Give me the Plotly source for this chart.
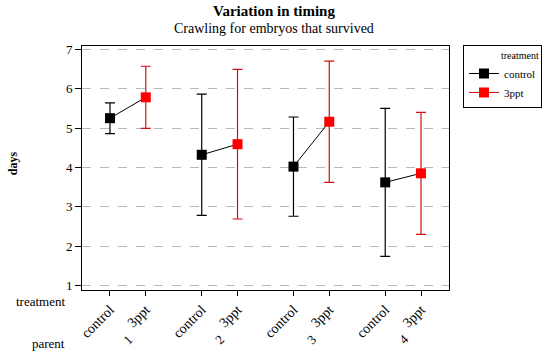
import plotly.graph_objects as go

# values
parents = [1, 2, 3, 4]
treatments = ["control", "3ppt"]
control_mean = [5.25, 4.32, 4.02, 3.62]
control_err = [0.39, 1.54, 1.26, 1.88]
ppt_mean = [5.78, 4.59, 5.16, 3.85]
ppt_err = [0.79, 1.90, 1.54, 1.55]
y_ticks = [1, 2, 3, 4, 5, 6, 7]

off = 0.195
xc = [p - off for p in parents]
xt = [p + off for p in parents]

SERIF = "Liberation Serif, Times New Roman, serif"


def gapped(vals):
    # put None between points so a lines+markers trace draws no segments
    out = []
    for i, v in enumerate(vals):
        if i:
            out.append(None)
        out.append(v)
    return out


def px_x(px):
    # pixel column -> paper x (plot area spans 82..450)
    return (px - 82) / 368


def px_y(px):
    # pixel row -> paper y (plot area spans 46..290)
    return (290 - px) / 244


fig = go.Figure()

# black connecting line in each parent group
lx, ly = [], []
for i in range(len(parents)):
    lx += [xc[i], xt[i], None]
    ly += [control_mean[i], ppt_mean[i], None]
fig.add_trace(go.Scatter(x=lx, y=ly, mode="lines", line=dict(color="black", width=1),
                         showlegend=False, hoverinfo="skip"))

fig.add_trace(go.Scatter(
    name="control", x=gapped(xc), y=gapped(control_mean), mode="lines+markers",
    line=dict(color="black", width=1),
    marker=dict(symbol="square", size=10, color="black"),
    error_y=dict(type="data", array=gapped(control_err), color="black", thickness=1.2, width=5)))

fig.add_trace(go.Scatter(
    name="3ppt", x=gapped(xt), y=gapped(ppt_mean), mode="lines+markers",
    line=dict(color="#e00000", width=1),
    marker=dict(symbol="square", size=10, color="#ff0000"),
    error_y=dict(type="data", array=gapped(ppt_err), color="#d01010", thickness=1.2, width=5)))

tick_x = []
tick_text = []
for i in range(len(parents)):
    tick_x += [xc[i], xt[i]]
    tick_text += treatments

fig.update_xaxes(range=[0.5, 4.5], tickvals=tick_x, ticktext=tick_text, tickangle=-45,
                 ticks="outside", ticklen=5, tickcolor="black",
                 showline=True, linecolor="black", linewidth=1, mirror=True,
                 showgrid=False, zeroline=False,
                 tickfont=dict(family=SERIF, size=14, color="black"))
fig.update_yaxes(range=[0.886, 7.084], tickvals=y_ticks, ticks="outside", ticklen=6,
                 tickcolor="black", showline=True, linecolor="black", linewidth=1, mirror=True,
                 showgrid=True, gridcolor="#b8b8b8", griddash="dash", gridwidth=1,
                 zeroline=False,
                 tickfont=dict(family=SERIF, size=13, color="black"))

# titles
fig.add_annotation(x=px_x(275), y=px_y(11), xref="paper", yref="paper",
                   text="<b>Variation in timing</b>", showarrow=False, yanchor="middle",
                   font=dict(family=SERIF, size=15, color="black"))
fig.add_annotation(x=px_x(275), y=px_y(28.5), xref="paper", yref="paper",
                   text="Crawling for embryos that survived", showarrow=False, yanchor="middle",
                   font=dict(family=SERIF, size=14, color="black"))
fig.add_annotation(x=px_x(13), y=px_y(163), xref="paper", yref="paper",
                   text="<b>days</b>", showarrow=False, textangle=-90,
                   xanchor="center", yanchor="middle",
                   font=dict(family=SERIF, size=12, color="black"))

for p in parents:
    fig.add_annotation(x=p, y=px_y(339), xref="x", yref="paper", text=str(p),
                       showarrow=False, textangle=-45, yanchor="middle",
                       font=dict(family=SERIF, size=13, color="black"))
fig.add_annotation(x=px_x(67), y=px_y(301), xref="paper", yref="paper",
                   text="treatment", showarrow=False, xanchor="right", yanchor="middle",
                   font=dict(family=SERIF, size=13, color="black"))
fig.add_annotation(x=px_x(67), y=px_y(343), xref="paper", yref="paper",
                   text="parent", showarrow=False, xanchor="right", yanchor="middle",
                   font=dict(family=SERIF, size=13, color="black"))

fig.update_layout(
    width=553, height=356,
    margin=dict(l=82, r=103, t=46, b=66),
    paper_bgcolor="white", plot_bgcolor="white",
    legend=dict(x=px_x(463), y=px_y(45), xanchor="left", yanchor="top",
                bordercolor="black", borderwidth=1, bgcolor="white",
                font=dict(family=SERIF, size=11, color="black"),
                title=dict(text="treatment", side="top right",
                           font=dict(family=SERIF, size=10, color="black")),
                itemwidth=30, tracegroupgap=0),
    showlegend=True,
)

fig.write_html("out.html", config={"displayModeBar": False},
               post_script="document.body.style.margin='0';")
